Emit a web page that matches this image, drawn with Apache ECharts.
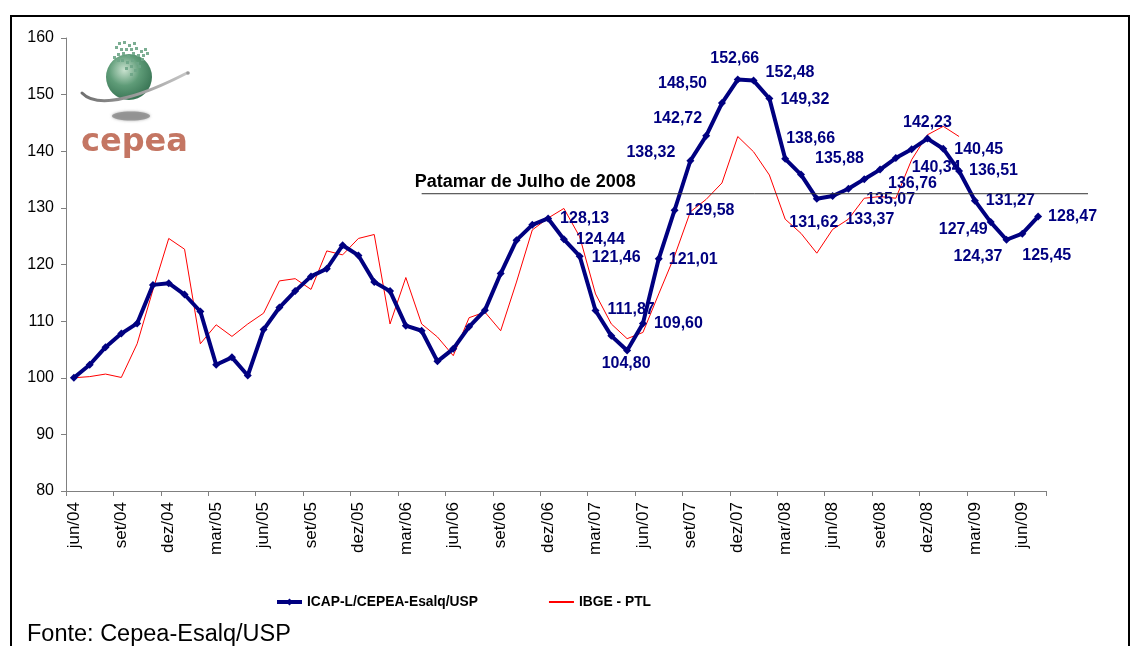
<!DOCTYPE html>
<html>
<head>
<meta charset="utf-8">
<script src="https://cdn.jsdelivr.net/npm/echarts@6/dist/echarts.min.js"></script>
<style>
html,body{margin:0;padding:0;background:#fff;}
#chart{width:1132px;height:646px;}
</style>
</head>
<body>
<div id="chart"></div>
<script>
const categories = ['jun/04','jul/04','ago/04','set/04','out/04','nov/04','dez/04',
 'jan/05','fev/05','mar/05','abr/05','mai/05','jun/05','jul/05','ago/05','set/05','out/05','nov/05','dez/05',
 'jan/06','fev/06','mar/06','abr/06','mai/06','jun/06','jul/06','ago/06','set/06','out/06','nov/06','dez/06',
 'jan/07','fev/07','mar/07','abr/07','mai/07','jun/07','jul/07','ago/07','set/07','out/07','nov/07','dez/07',
 'jan/08','fev/08','mar/08','abr/08','mai/08','jun/08','jul/08','ago/08','set/08','out/08','nov/08','dez/08',
 'jan/09','fev/09','mar/09','abr/09','mai/09','jun/09','jul/09'];

const icapValues = [100.0,102.3,105.4,107.8,109.6,116.4,116.7,114.7,111.7,102.3,
 103.6,100.4,108.5,112.4,115.3,117.9,119.25,123.4,121.6,116.9,
 115.3,109.2,108.3,102.9,105.1,109.0,111.9,118.4,124.3,127.0,
 128.13,124.44,121.46,111.87,107.4,104.80,109.60,121.01,129.58,138.32,
 142.72,148.50,152.66,152.48,149.32,138.66,135.88,131.62,132.1,133.37,
 135.07,136.76,138.8,140.34,142.23,140.45,136.51,131.27,127.49,124.37,
 125.45,128.47];

const ibgeValues = [100.0,100.2,100.65,100.05,106.0,115.5,124.6,122.7,106.0,109.35,
 107.3,109.5,111.4,117.1,117.5,115.6,122.4,121.7,124.6,125.3,
 109.5,117.7,109.5,107.2,103.9,110.6,111.6,108.3,116.9,126.1,
 128.2,129.9,124.9,114.8,109.5,106.9,108.0,114.8,121.5,129.3,
 131.5,134.4,142.6,139.9,135.8,128.0,125.5,122.0,126.2,128.0,
 131.7,132.0,131.7,138.5,142.9,144.4,142.6];

const seriesNames = ['ICAP-L/CEPEA-Esalq/USP', 'IBGE - PTL'];
const yTicks = {min: 80, max: 160, interval: 10};
const patamarValue = 132.5;
const patamarStartCategory = 'abr/06';
const patamarText = 'Patamar de Julho de 2008';
const sourceText = 'Fonte: Cepea-Esalq/USP';

// label placement: [index, align, dx, dy]
const labelLayoutList = [
 [30,'left',12,0],[31,'left',12,0],[32,'left',12,1],[33,'left',12,-1],
 [35,'center',-1,13],[36,'left',11,0],[37,'left',10,1],[38,'left',11,0],
 [39,'right',-15,-8],[40,'right',-4,-17],[41,'right',-15,-20],[42,'center',-3,-21],
 [43,'left',12,-8],[44,'left',11,1],[45,'left',1,-20],[46,'left',14,-16],
 [47,'center',-3,24],[49,'left',-3,31],[50,'left',2,20],[51,'left',8,14],
 [53,'left',0,18],[54,'center',0,-16],[55,'left',11,1],[56,'left',10,0],
 [57,'left',11,0],[58,'right',-3,8],[59,'right',-4,17],[60,'left',0,22],[61,'left',10,0]
];

const NAVY = '#000080';
const FONT = '"Liberation Sans", Arial, sans-serif';

const fmt = v => v.toFixed(2).replace('.', ',');
const layoutMap = {};
labelLayoutList.forEach(l => { layoutMap[l[0]] = l; });

const icapData = icapValues.map((v, i) => {
  const l = layoutMap[i];
  if (!l) return v;
  return {
    value: v,
    label: {
      show: true, position: 'inside', formatter: fmt(v),
      color: NAVY, fontFamily: FONT, fontWeight: 'bold', fontSize: 16
    }
  };
});

const chart = echarts.init(document.getElementById('chart'), null, {renderer: 'canvas'});

const gridLeft = 66, gridRight = 86, gridTop = 38, gridBottom = 155;

// logo decoration
const logoDots = [];
const dotPts = [[118,42],[123,41],[128,44],[133,42],[115,46],[120,48],[125,48],[130,48],[135,47],[140,50],[144,48],[117,53],[122,52],[127,55],[132,52],[137,54],[142,54],[146,52],[121,59],[126,61],[131,59],[136,62],[141,58],[125,67],[130,65],[134,69],[130,73],[138,65],[117,59],[113,56]];
dotPts.forEach(p => logoDots.push({type:'rect', shape:{x:p[0], y:p[1], width:3, height:3}, style:{fill: 'rgba(110,165,135,0.9)'}, z: 12}));

const option = {
  animation: false,
  backgroundColor: '#fff',
  textStyle: {fontFamily: FONT},
  grid: {left: gridLeft, right: gridRight, top: gridTop, bottom: gridBottom, containLabel: false},
  legend: {
    left: 270, top: 590, itemGap: 70, itemWidth: 25, itemHeight: 9,
    data: [
      {name: seriesNames[0], lineStyle: {width: 4}},
      {name: seriesNames[1], itemStyle: {opacity: 0}}
    ],
    textStyle: {fontFamily: FONT, fontWeight: 'bold', fontSize: 13.8, color: '#000'}
  },
  xAxis: {
    type: 'category', data: categories, boundaryGap: true,
    axisLine: {show: true, lineStyle: {color: '#808080', width: 1}},
    axisTick: {show: true, interval: 2, length: 5, lineStyle: {color: '#808080'}},
    axisLabel: {interval: 2, rotate: 90, margin: 11, fontSize: 17, color: '#000', fontFamily: FONT},
    splitLine: {show: false}
  },
  yAxis: {
    type: 'value', min: yTicks.min, max: yTicks.max, interval: yTicks.interval,
    axisLine: {show: true, lineStyle: {color: '#808080', width: 1}},
    axisTick: {show: true, length: 5, lineStyle: {color: '#808080'}},
    axisLabel: {fontSize: 16, color: '#000', margin: 12, fontFamily: FONT},
    splitLine: {show: false}
  },
  series: [
    {
      name: seriesNames[1], type: 'line', data: ibgeValues, showSymbol: false, symbol: 'none',
      lineStyle: {color: '#ff0000', width: 1}, itemStyle: {color: '#ff0000'}, z: 2
    },
    {
      name: seriesNames[0], type: 'line', data: icapData, symbol: 'diamond', symbolSize: 8,
      showAllSymbol: true,
      lineStyle: {color: NAVY, width: 4}, itemStyle: {color: NAVY}, z: 3,
      labelLayout: function (params) {
        const l = layoutMap[params.dataIndex];
        if (!l) return {};
        const cx = params.rect.x + params.rect.width / 2;
        const cy = params.rect.y + params.rect.height / 2;
        return {x: cx + l[2], y: cy + l[3], align: l[1], verticalAlign: 'middle', hideOverlap: false};
      }
    }
  ],
  graphic: [
    {type:'rect', shape:{x:11, y:16, width:1118, height:700}, style:{fill:'none', stroke:'#000', lineWidth:2}, z: 1},
    {type:'text', left: 27, top: 623, style:{text: sourceText, font: '23.5px ' + FONT, fill:'#000'}, z: 10},
    // logo
    {type:'ellipse', shape:{cx:131, cy:116, rx:19, ry:4.5}, style:{fill:'#8c8c8c', opacity:0.8, shadowBlur:3, shadowColor:'#999'}, z: 10},
    {type:'circle', shape:{cx:129, cy:77, r:23},
     style:{fill: new echarts.graphic.RadialGradient(0.4, 0.35, 0.75, [
       {offset:0, color:'#c9e2cf'}, {offset:0.45, color:'#5f9c78'}, {offset:1, color:'#2f6a4b'}])}, z: 11},
    {type:'bezierCurve', shape:{x1:82, y1:93, x2:187, y2:73, cpx1:100, cpy1:112, cpx2:150, cpy2:92},
     style:{stroke: new echarts.graphic.LinearGradient(0,0,1,0,[{offset:0,color:'#6e6e6e'},{offset:1,color:'#c8c8c8'}]), lineWidth:3, fill:null, lineCap:'round'}, z: 13},
    {type:'circle', shape:{cx:188, cy:73, r:1.8}, style:{fill:'#999'}, z: 13},
    {type:'text', left: 81, top: 127, style:{text:'cepea', font:'bold 32px "DejaVu Sans", sans-serif', fill:'#c47663'}, z: 13}
  ].concat(logoDots)
};

chart.setOption(option);

// Patamar reference line, placed through the chart's own scales
const p0 = chart.convertToPixel({xAxisIndex: 0, yAxisIndex: 0}, [patamarStartCategory, patamarValue]);
const endX = 1132 - gridRight + 42;
chart.setOption({
  graphic: option.graphic.concat([
    {type:'line', shape:{x1:p0[0], y1:p0[1], x2:endX, y2:p0[1]}, style:{stroke:'#333', lineWidth:1}, z: 5},
    {type:'text', x: p0[0] - 7, y: p0[1] - 12, style:{text: patamarText, font: 'bold 18px ' + FONT, fill:'#000', verticalAlign:'middle', align:'left'}, z: 6}
  ])
});
</script>
</body>
</html>
